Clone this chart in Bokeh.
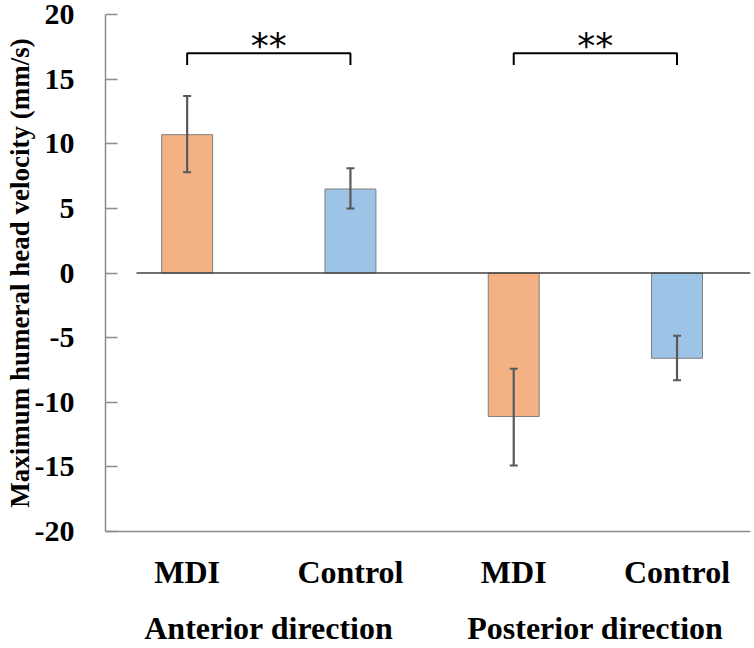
from bokeh.plotting import figure
from bokeh.models import (Range1d, LinearAxis, FixedTicker, ColumnDataSource,
                          Whisker, TeeHead)
from bokeh.core.properties import value
from bokeh.embed import file_html
from bokeh.resources import INLINE

# ---- data ----
groups = ["Anterior direction", "Posterior direction"]
subjects = ["MDI", "Control", "MDI", "Control"]
means = [10.7, 6.5, -11.1, -6.6]
err_upper = [13.7, 8.1, -7.4, -4.85]
err_lower = [7.8, 5.0, -14.9, -8.3]
bar_colors = ["#F4B183", "#9DC3E6", "#F4B183", "#9DC3E6"]
y_ticks = [-20, -15, -10, -5, 0, 5, 10, 15, 20]
y_tick_labels = ["-20", "-15", "-10", "-5", "0", "5", "10", "15", "20"]
significance = ["**", "**"]
y_label = "Maximum humeral head velocity (mm/s)"

# ---- style constants ----
SERIF = "Liberation Serif"
BAR_W = 0.312
BRACKET_TOP = 17.0
BRACKET_DROP = 16.1
STAR_Y = 17.6
ZERO_START = 0.19
X_END = 3.95
AXIS_GRAY = "#8c8c8c"

x = [i + 0.5 for i in range(len(subjects))]
group_x = [(x[2 * g] + x[2 * g + 1]) / 2 for g in range(len(groups))]

src = ColumnDataSource(dict(x=x, top=means, upper=err_upper, lower=err_lower,
                            color=bar_colors))

p = figure(width=754, height=648, x_range=Range1d(0, X_END),
           y_range=Range1d(-20, 20), output_backend="svg",
           toolbar_location=None, x_axis_location=None, y_axis_location=None,
           min_border_left=105, min_border_right=4, min_border_top=14,
           min_border_bottom=117)
p.grid.visible = False
p.outline_line_color = None
p.background_fill_color = "white"
p.border_fill_color = "white"

p.vbar(x="x", top="top", bottom=0, width=BAR_W, source=src,
       fill_color="color", line_color="#7f7f7f", line_width=1)

# zero line
p.segment(x0=[ZERO_START], y0=[0], x1=[X_END], y1=[0],
          line_color="#404040", line_width=1.6)

wh = Whisker(base="x", upper="upper", lower="lower", source=src,
             level="annotation",
             line_color="#595959", line_width=2.2,
             upper_head=TeeHead(size=8, line_color="#595959", line_width=2),
             lower_head=TeeHead(size=8, line_color="#595959", line_width=2))
p.add_layout(wh)

# significance brackets
bxs, bys = [], []
for g in range(len(groups)):
    a, b = x[2 * g], x[2 * g + 1]
    bxs.append([a, a, b, b])
    bys.append([BRACKET_DROP, BRACKET_TOP, BRACKET_TOP, BRACKET_DROP])
p.multi_line(xs=bxs, ys=bys, line_color="black", line_width=2)
p.text(x=group_x, y=[STAR_Y] * len(groups), text=significance,
       text_font=value("DejaVu Sans"), text_font_size="36px",
       text_align="center", text_baseline="alphabetic", text_color="black")

# y axis
ya = LinearAxis(ticker=FixedTicker(ticks=y_ticks),
                major_label_overrides={t: s for t, s in zip(y_ticks, y_tick_labels)},
                axis_line_color=AXIS_GRAY, axis_line_width=1.5,
                major_tick_line_color=AXIS_GRAY, major_tick_line_width=1.5,
                major_tick_in=12, major_tick_out=0,
                minor_tick_line_color=None,
                major_label_standoff=31,
                major_label_text_font=SERIF,
                major_label_text_font_style="bold",
                major_label_text_font_size="30px",
                major_label_text_color="black",
                axis_label=y_label,
                axis_label_standoff=-3,
                axis_label_text_font=SERIF,
                axis_label_text_font_style="bold",
                axis_label_text_font_size="27px",
                axis_label_text_color="black")
p.add_layout(ya, "left")

# category axis
xa = LinearAxis(ticker=FixedTicker(ticks=x),
                major_label_overrides={xi: s for xi, s in zip(x, subjects)},
                axis_line_color=AXIS_GRAY, axis_line_width=1.5,
                major_tick_line_color=None, minor_tick_line_color=None,
                major_label_standoff=16,
                major_label_text_font=SERIF,
                major_label_text_font_style="bold",
                major_label_text_font_size="32px",
                major_label_text_color="black")
p.add_layout(xa, "below")

# group axis
ga = LinearAxis(ticker=FixedTicker(ticks=group_x),
                major_label_overrides={gx: s for gx, s in zip(group_x, groups)},
                axis_line_color=None, major_tick_line_color=None,
                minor_tick_line_color=None,
                major_label_standoff=11,
                major_label_text_font=SERIF,
                major_label_text_font_style="bold",
                major_label_text_font_size="32px",
                major_label_text_color="black")
p.add_layout(ga, "below")

open("out.html", "w").write(file_html(p, INLINE))
